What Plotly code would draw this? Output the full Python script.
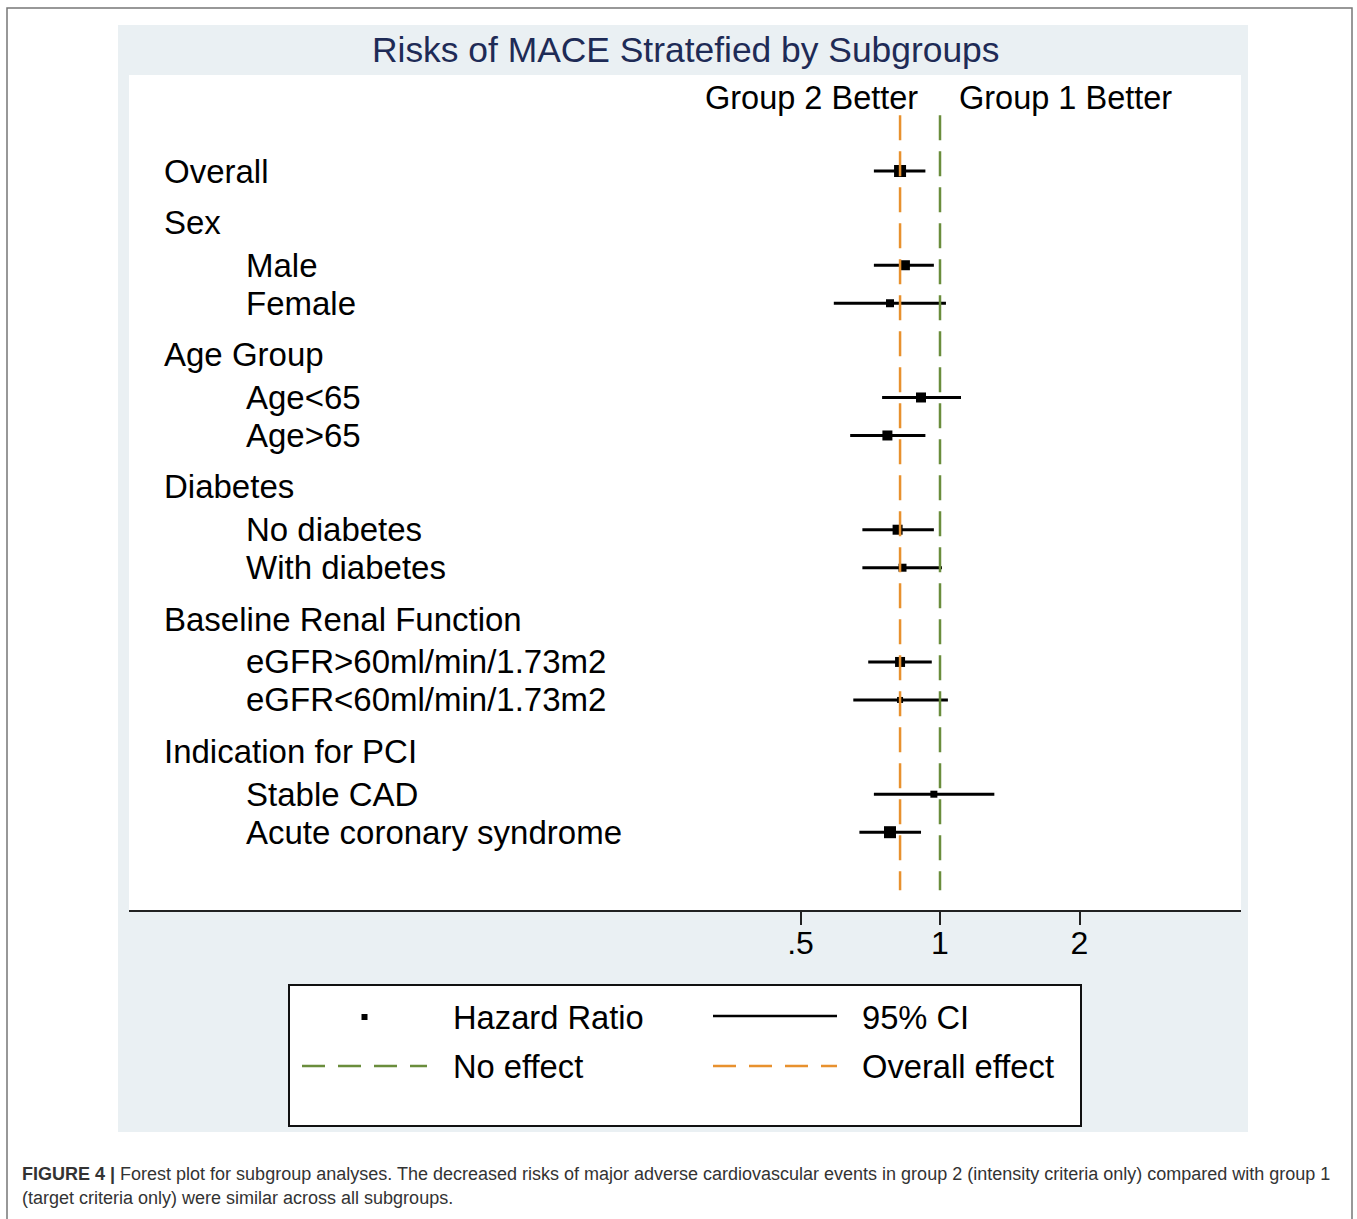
import math
import plotly.graph_objects as go

# ---------------- data ----------------
labels = ["Overall", "Sex", "Male", "Female", "Age Group", "Age<65", "Age>65",
          "Diabetes", "No diabetes", "With diabetes", "Baseline Renal Function",
          "eGFR>60ml/min/1.73m2", "eGFR<60ml/min/1.73m2", "Indication for PCI",
          "Stable CAD", "Acute coronary syndrome"]
level = [0, 0, 1, 1, 0, 1, 1, 0, 1, 1, 0, 1, 1, 0, 1, 1]
hr = [0.82, None, 0.84, 0.78, None, 0.91, 0.77, None, 0.81, 0.83, None, 0.82, 0.82, None, 0.97, 0.78]
ci_lo = [0.72, None, 0.72, 0.59, None, 0.75, 0.64, None, 0.68, 0.68, None, 0.70, 0.65, None, 0.72, 0.67]
ci_hi = [0.93, None, 0.97, 1.03, None, 1.11, 0.93, None, 0.97, 1.01, None, 0.96, 1.04, None, 1.31, 0.91]
no_effect = 1.0
overall_effect = hr[0]
tick_vals = [0.5, 1, 2]
tick_text = [".5", "1", "2"]

title = "Risks of MACE Stratefied by Subgroups"
caption1 = ("<b>FIGURE 4 |</b> Forest plot for subgroup analyses. The decreased risks of major adverse "
            "cardiovascular events in group 2 (intensity criteria only) compared with group 1")
caption2 = "(target criteria only) were similar across all subgroups."

# ---------------- styles ----------------
FONT = "Liberation Sans, Arial, Helvetica, sans-serif"
ORANGE = "#E8912E"
GREEN = "#6A8D3C"
BG = "#EAF0F3"
marker_px = [12, 0, 10, 8, 0, 10, 10, 0, 10, 8, 0, 10, 6, 0, 7, 12]

W, H = 1357, 1219
L, R, T, B = 129, 1241, 75, 910
pw, ph = R - L, B - T


def px(xp):
    return (xp - L) / pw


def py(yp):
    return (B - yp) / ph


# row positions (row units, downward)
pos = [0.0]
for i in range(1, len(labels)):
    a, b = level[i - 1], level[i]
    gap = 1.0 if (a == 1 and b == 1) else (1.13 if (a == 0 and b == 1) else 1.35)
    pos.append(pos[-1] + gap)

fig = go.Figure()

idx = [i for i in range(len(labels)) if hr[i] is not None]
fig.add_trace(go.Scatter(
    x=[hr[i] for i in idx], y=[pos[i] for i in idx], mode="markers",
    marker=dict(symbol="square", size=[marker_px[i] for i in idx], color="black",
                opacity=1, line=dict(width=0)),
    error_x=dict(type="data", symmetric=False,
                 array=[ci_hi[i] - hr[i] for i in idx],
                 arrayminus=[hr[i] - ci_lo[i] for i in idx],
                 width=0, thickness=3, color="black"),
    showlegend=False, hoverinfo="skip"))

y_top = pos[0] - 1.47
y_bot = pos[-1] + 1.53
for xv, col in [(overall_effect, ORANGE), (no_effect, GREEN)]:
    fig.add_trace(go.Scatter(x=[xv, xv], y=[y_top, y_bot], mode="lines",
                             line=dict(color=col, width=2.5, dash="25px,11px"),
                             showlegend=False, hoverinfo="skip"))

shapes = []
# outer border
shapes.append(dict(type="rect", xref="paper", yref="paper", x0=px(7), x1=px(1352),
                   y0=py(1240), y1=py(8), line=dict(color="#777777", width=1.5),
                   fillcolor="rgba(0,0,0,0)", layer="below"))
# graph region background
shapes.append(dict(type="rect", xref="paper", yref="paper", x0=px(118), x1=px(1248),
                   y0=py(1132), y1=py(25), line=dict(width=0), fillcolor=BG, layer="below"))
# plot region (white)
shapes.append(dict(type="rect", xref="paper", yref="paper", x0=0, x1=1,
                   y0=0, y1=1, line=dict(width=0), fillcolor="white", layer="below"))
# legend box
shapes.append(dict(type="rect", xref="paper", yref="paper", x0=px(289), x1=px(1081),
                   y0=py(1126), y1=py(985), line=dict(color="#111111", width=2),
                   fillcolor="white", layer="above"))
# legend keys
shapes.append(dict(type="rect", xref="paper", yref="paper", x0=px(361.5), x1=px(367.5),
                   y0=py(1020), y1=py(1014), line=dict(width=0), fillcolor="black"))
shapes.append(dict(type="line", xref="paper", yref="paper", x0=px(713), x1=px(837),
                   y0=py(1016), y1=py(1016), line=dict(color="black", width=2.5)))
shapes.append(dict(type="line", xref="paper", yref="paper", x0=px(302), x1=px(427),
                   y0=py(1066), y1=py(1066), line=dict(color=GREEN, width=2.5, dash="23px,13px")))
shapes.append(dict(type="line", xref="paper", yref="paper", x0=px(713), x1=px(837),
                   y0=py(1066), y1=py(1066), line=dict(color=ORANGE, width=2.5, dash="23px,13px")))

ann = []


def esc(s):
    return s.replace("<", "&lt;").replace(">", "&gt;")


for i, lab in enumerate(labels):
    ann.append(dict(xref="paper", yref="y", x=px(162 if level[i] == 0 else 244), y=pos[i],
                    xanchor="left", yanchor="middle", text=esc(lab), showarrow=False,
                    font=dict(family=FONT, size=33, color="black")))

ann.append(dict(xref="paper", yref="paper", x=px(685), y=py(50), text=title, showarrow=False,
                xanchor="center", yanchor="middle",
                font=dict(family=FONT, size=35.4, color="#1E2B56")))
ann.append(dict(xref="x", yref="paper", x=0, y=py(98), xshift=-20, text="Group 2 Better",
                showarrow=False, xanchor="right", yanchor="middle",
                font=dict(family=FONT, size=32.5, color="black")))
ann.append(dict(xref="x", yref="paper", x=0, y=py(98), xshift=17, text="Group 1 Better",
                showarrow=False, xanchor="left", yanchor="middle",
                font=dict(family=FONT, size=32.5, color="black")))

for txt, xp, yp in [("Hazard Ratio", 451, 1017), ("95% CI", 860, 1017),
                    ("No effect", 451, 1066), ("Overall effect", 860, 1066)]:
    ann.append(dict(xref="paper", yref="paper", x=px(xp), y=py(yp), text=txt, showarrow=False,
                    xanchor="left", yanchor="middle",
                    font=dict(family=FONT, size=32.7, color="black")))

ann.append(dict(xref="paper", yref="paper", x=px(20), y=py(1174), text=caption1, showarrow=False,
                xanchor="left", yanchor="middle",
                font=dict(family=FONT, size=18, color="#333333")))
ann.append(dict(xref="paper", yref="paper", x=px(20), y=py(1198), text=caption2, showarrow=False,
                xanchor="left", yanchor="middle",
                font=dict(family=FONT, size=18, color="#333333")))

x_lo = 2 ** ((L - 940) / 139.5)
x_hi = 2 ** ((R - 940) / 139.5)
unit = 38.0
y0_px = 171
fig.update_layout(
    width=W, height=H,
    margin=dict(l=L, r=W - R, t=T, b=H - B, pad=0),
    paper_bgcolor="white", plot_bgcolor="white",
    showlegend=False,
    xaxis=dict(type="log", range=[math.log10(x_lo), math.log10(x_hi)],
               tickvals=tick_vals, ticktext=tick_text, ticks="outside", ticklen=13,
               tickwidth=2, tickcolor="#222222", showgrid=False, zeroline=False,
               showline=True, linecolor="#222222", linewidth=2, ticklabelstandoff=-9,
               tickfont=dict(family=FONT, size=32, color="black"), fixedrange=True),
    yaxis=dict(range=[(B - y0_px) / unit, (T - y0_px) / unit], visible=False,
               showgrid=False, zeroline=False, fixedrange=True),
    shapes=shapes, annotations=ann,
)

fig.write_html("out.html", config={"displayModeBar": False},
               post_script="document.body.style.margin='0';document.body.style.overflow='hidden';")
